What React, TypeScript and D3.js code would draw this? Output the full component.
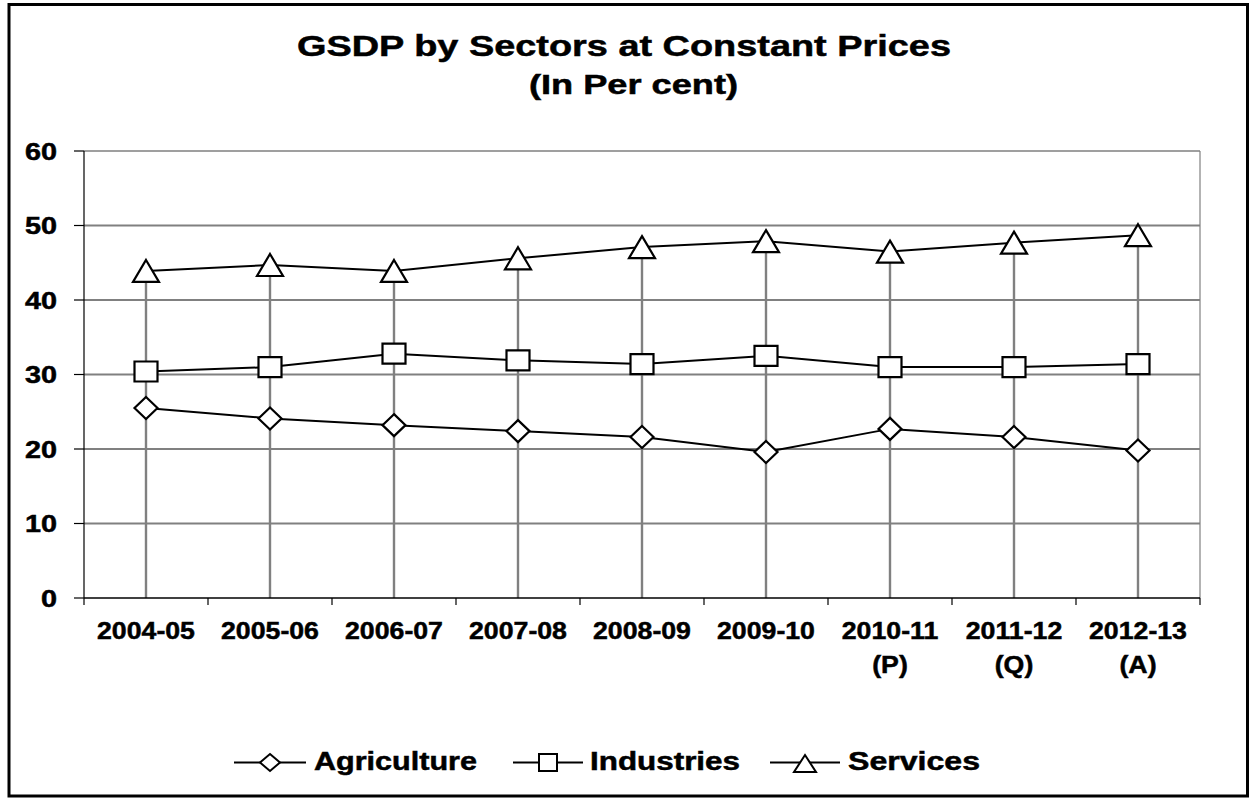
import React from "react";
import * as d3 from "d3";

const categories = ["2004-05", "2005-06", "2006-07", "2007-08", "2008-09", "2009-10", "2010-11", "2011-12", "2012-13"];
const categorySub = ["", "", "", "", "", "", "(P)", "(Q)", "(A)"];
const agriculture = [25.5, 24.1, 23.2, 22.4, 21.6, 19.6, 22.7, 21.6, 19.8];
const industries = [30.4, 31.0, 32.8, 31.9, 31.4, 32.5, 31.0, 31.0, 31.4];
const services = [43.9, 44.7, 43.9, 45.6, 47.1, 47.9, 46.5, 47.7, 48.7];
const yTicks = [0, 10, 20, 30, 40, 50, 60];
const seriesNames = ["Agriculture", "Industries", "Services"];

const W = 1249;
const H = 798;
const FONT = "'Liberation Sans', Arial, sans-serif";

function diamond(cx: number, cy: number, hw: number, hh: number) {
  return `M${cx},${cy - hh}L${cx + hw},${cy}L${cx},${cy + hh}L${cx - hw},${cy}Z`;
}
function square(cx: number, cy: number, hw: number, hh: number) {
  return `M${cx - hw},${cy - hh}H${cx + hw}V${cy + hh}H${cx - hw}Z`;
}
function triangle(cx: number, cy: number, hw: number, hh: number) {
  return `M${cx},${cy - hh}L${cx + hw},${cy + hh}L${cx - hw},${cy + hh}Z`;
}

export default function App() {
  const left = 84, right = 1200, top = 151, bottom = 598;
  const x = d3.scaleBand<string>().domain(categories).range([left, right]).padding(0);
  const y = d3.scaleLinear().domain([0, 60]).range([bottom, top]);
  const cx = (c: string) => (x(c) as number) + x.bandwidth() / 2;

  const line = d3
    .line<number>()
    .x((_, i) => cx(categories[i]))
    .y((v) => y(v));

  const series = [
    { name: seriesNames[0], values: agriculture, shape: "diamond" },
    { name: seriesNames[1], values: industries, shape: "square" },
    { name: seriesNames[2], values: services, shape: "triangle" },
  ];

  const marker = (shape: string, px: number, py: number) => {
    if (shape === "diamond") return diamond(px, py, 11.5, 11);
    if (shape === "square") return square(px, py, 11.5, 10);
    return triangle(px, py, 13, 11);
  };

  const boundaries = d3.range(categories.length + 1).map((i) => left + i * x.bandwidth());

  const ly = 762.5;
  const legendItems = [
    { name: seriesNames[0], x1: 234, x2: 306, tx: 314, tl: 163, path: diamond(270, ly, 10, 8.5) },
    { name: seriesNames[1], x1: 513, x2: 583, tx: 590, tl: 150, path: square(548, ly, 9, 8.5) },
    { name: seriesNames[2], x1: 770, x2: 840, tx: 848, tl: 132, path: triangle(805, ly + 1, 11, 8.5) },
  ];

  const heavy = { stroke: "#000", strokeWidth: 0.5 };

  return (
    <svg
      width={W}
      height={H}
      style={{ position: "absolute", left: 0, top: 0, background: "#fff" }}
      fontFamily={FONT}
    >
      <rect x={0} y={0} width={W} height={H} fill="#fff" />
      <rect x={9} y={4.5} width={1238.5} height={791.5} fill="none" stroke="#000" strokeWidth={3} />

      {/* Title */}
      <text x={297} y={56} fontSize={30} fontWeight="bold" textLength={654} lengthAdjust="spacingAndGlyphs" {...heavy}>
        GSDP by Sectors at Constant Prices
      </text>
      <text x={529} y={94} fontSize={27} fontWeight="bold" textLength={209} lengthAdjust="spacingAndGlyphs" {...heavy}>
        (In Per cent)
      </text>

      {/* Gridlines */}
      {yTicks.filter((t) => t > 0 && t < 60).map((t) => (
        <line key={t} x1={left} x2={right} y1={y(t)} y2={y(t)} stroke="#808080" strokeWidth={2} />
      ))}
      <line x1={left} x2={right} y1={y(60)} y2={y(60)} stroke="#404040" strokeWidth={1.2} />
      <line x1={right} x2={right} y1={top} y2={bottom} stroke="#808080" strokeWidth={1.2} />

      {/* Drop lines */}
      {categories.map((c, i) => (
        <line
          key={c}
          x1={cx(c)}
          x2={cx(c)}
          y1={y(Math.max(agriculture[i], industries[i], services[i]))}
          y2={bottom}
          stroke="#808080"
          strokeWidth={2.4}
        />
      ))}

      {/* Axes */}
      <line x1={left} x2={left} y1={top} y2={bottom} stroke="#000" strokeWidth={1.2} />
      {yTicks.map((t) => (
        <line key={t} x1={74} x2={left} y1={y(t)} y2={y(t)} stroke="#000" strokeWidth={1.2} />
      ))}
      <line x1={left} x2={right} y1={bottom} y2={bottom} stroke="#000" strokeWidth={1.6} />
      {boundaries.map((bx, i) => (
        <line key={i} x1={bx} x2={bx} y1={bottom} y2={605} stroke="#000" strokeWidth={1.2} />
      ))}

      {/* Y tick labels */}
      {yTicks.map((t) => (
        <g key={t} transform={`translate(57,${y(t) + 8.5}) scale(1.2,1)`}>
          <text x={0} y={0} fontSize={24} fontWeight="bold" textAnchor="end" {...heavy}>
            {t}
          </text>
        </g>
      ))}

      {/* X tick labels */}
      {categories.map((c, i) => (
        <g key={c} transform={`translate(${cx(c)},0) scale(1.09,1)`}>
          <text x={0} y={639.5} fontSize={24.5} fontWeight="bold" textAnchor="middle" {...heavy}>
            {c}
          </text>
          {categorySub[i] && (
            <text x={0} y={673.5} fontSize={24.5} fontWeight="bold" textAnchor="middle" {...heavy}>
              {categorySub[i]}
            </text>
          )}
        </g>
      ))}

      {/* Series lines */}
      {series.map((s) => (
        <path key={s.name} d={line(s.values) as string} fill="none" stroke="#000" strokeWidth={2} />
      ))}
      {/* Markers */}
      {series.map((s) =>
        s.values.map((v, i) => (
          <path
            key={s.name + i}
            d={marker(s.shape, cx(categories[i]), y(v))}
            fill="#fff"
            stroke="#000"
            strokeWidth={2.2}
          />
        ))
      )}

      {/* Legend */}
      {legendItems.map((l) => (
        <g key={l.name}>
          <line x1={l.x1} x2={l.x2} y1={ly} y2={ly} stroke="#000" strokeWidth={2} />
          <path d={l.path} fill="#fff" stroke="#000" strokeWidth={2} />
          <text x={l.tx} y={769.5} fontSize={25.5} fontWeight="bold" textLength={l.tl} lengthAdjust="spacingAndGlyphs" {...heavy}>
            {l.name}
          </text>
        </g>
      ))}
    </svg>
  );
}
